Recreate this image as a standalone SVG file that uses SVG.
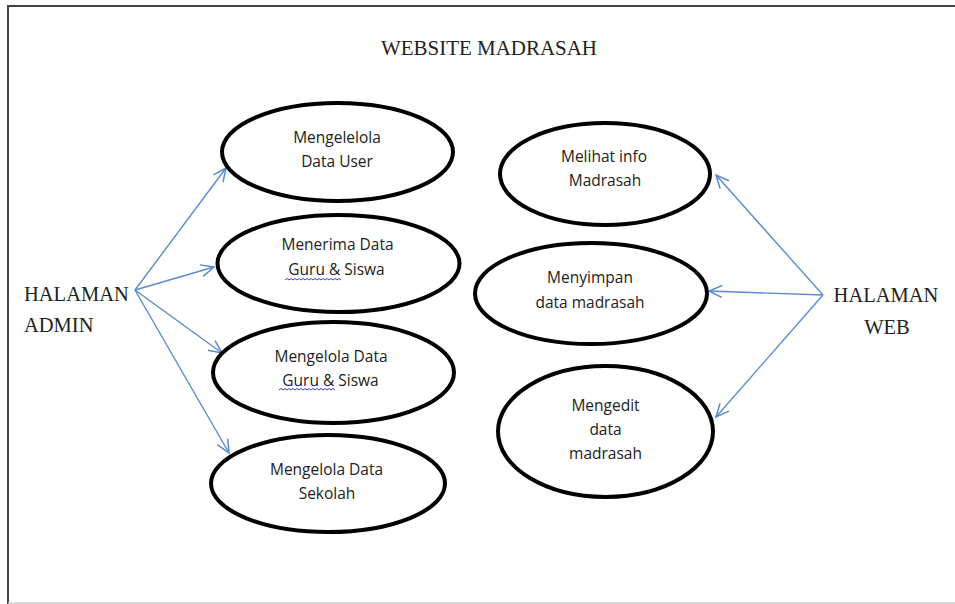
<svg xmlns="http://www.w3.org/2000/svg" width="955" height="604" viewBox="0 0 955 604">
<style>
.uc{fill:#fff;stroke:#000;stroke-width:4}
.lbl{font-family:"Open Sans","Liberation Sans",sans-serif;font-size:15.5px;fill:#222;text-anchor:middle}
.ser{font-family:"Liberation Serif","DejaVu Serif",serif;fill:#222}
.conn{stroke:#5b8bcd;stroke-width:1.4;fill:none}
.sq{stroke:#3a3af0;stroke-width:1;fill:none}
</style>
<defs>
<marker id="arr" markerUnits="userSpaceOnUse" markerWidth="16" markerHeight="16" viewBox="0 0 16 16" refX="14" refY="8" orient="auto">
<path d="M1,2 L14,8 L1,14" fill="none" stroke="#5b8bcd" stroke-width="1.5"/>
</marker>
</defs>
<rect width="955" height="604" fill="#fff"/>
<g id="frame">
<line x1="8" y1="6" x2="955" y2="6" stroke="#444" stroke-width="2"/>
<line x1="8" y1="5" x2="8" y2="604" stroke="#444" stroke-width="2"/>
<line x1="8" y1="603" x2="955" y2="603" stroke="#ccc" stroke-width="1.5"/>
</g>
<text id="title" class="ser" x="489" y="55" font-size="21" text-anchor="middle" textLength="216" lengthAdjust="spacingAndGlyphs">WEBSITE MADRASAH</text>
<g id="connectors">
<line class="conn" x1="135" y1="290" x2="226" y2="168" marker-end="url(#arr)"/>
<line class="conn" x1="135" y1="290" x2="214" y2="267" marker-end="url(#arr)"/>
<line class="conn" x1="135" y1="290" x2="222" y2="353" marker-end="url(#arr)"/>
<line class="conn" x1="135" y1="290" x2="229" y2="453" marker-end="url(#arr)"/>
<line class="conn" x1="823" y1="295" x2="716" y2="175" marker-end="url(#arr)"/>
<line class="conn" x1="823" y1="295" x2="709" y2="291" marker-end="url(#arr)"/>
<line class="conn" x1="823" y1="295" x2="716" y2="417" marker-end="url(#arr)"/>
</g>
<g id="actor-admin">
<text class="ser" x="24" y="301" font-size="20.5">HALAMAN</text>
<text class="ser" x="24" y="332" font-size="20.5">ADMIN</text>
</g>
<g id="actor-web">
<text class="ser" x="886" y="302" font-size="20.5" text-anchor="middle">HALAMAN</text>
<text class="ser" x="887" y="334" font-size="20.5" text-anchor="middle">WEB</text>
</g>
<g id="uc1">
<ellipse class="uc" cx="337.5" cy="152" rx="115.5" ry="49"/>
<text class="lbl" x="337" y="143">Mengelelola</text>
<text class="lbl" x="337" y="167">Data User</text>
</g>
<g id="uc2">
<ellipse class="uc" cx="338.5" cy="263.5" rx="121" ry="48.5"/>
<text class="lbl" x="337.5" y="250">Menerima Data</text>
<text class="lbl" x="336.5" y="275">Guru &amp; Siswa</text>
<path class="sq" d="M285,280 l2,-1.5 l2,1.5 l2,-1.5 l2,1.5 l2,-1.5 l2,1.5 l2,-1.5 l2,1.5 l2,-1.5 l2,1.5 l2,-1.5 l2,1.5 l2,-1.5 l2,1.5 l2,-1.5 l2,1.5 l2,-1.5 l2,1.5 l2,-1.5 l2,1.5 l2,-1.5 l2,1.5 l2,-1.5 l2,1.5 l2,-1.5 l2,1.5 l2,-1.5 l2,1.5"/>
</g>
<g id="uc3">
<ellipse class="uc" cx="333.5" cy="372.5" rx="120.5" ry="50.5"/>
<text class="lbl" x="331" y="362">Mengelola Data</text>
<text class="lbl" x="330.5" y="386">Guru &amp; Siswa</text>
<path class="sq" d="M279,390 l2,-1.5 l2,1.5 l2,-1.5 l2,1.5 l2,-1.5 l2,1.5 l2,-1.5 l2,1.5 l2,-1.5 l2,1.5 l2,-1.5 l2,1.5 l2,-1.5 l2,1.5 l2,-1.5 l2,1.5 l2,-1.5 l2,1.5 l2,-1.5 l2,1.5 l2,-1.5 l2,1.5 l2,-1.5 l2,1.5 l2,-1.5 l2,1.5 l2,-1.5 l2,1.5"/>
</g>
<g id="uc4">
<ellipse class="uc" cx="328" cy="483.5" rx="117" ry="48.5"/>
<text class="lbl" x="326.5" y="475">Mengelola Data</text>
<text class="lbl" x="327" y="499">Sekolah</text>
</g>
<g id="uc5">
<ellipse class="uc" cx="605" cy="174" rx="105" ry="51"/>
<text class="lbl" x="604" y="162">Melihat info</text>
<text class="lbl" x="605" y="186">Madrasah</text>
</g>
<g id="uc6">
<ellipse class="uc" cx="591" cy="293.5" rx="116" ry="50.5"/>
<text class="lbl" x="590" y="283">Menyimpan</text>
<text class="lbl" x="590" y="308">data madrasah</text>
</g>
<g id="uc7">
<ellipse class="uc" cx="605.5" cy="431.5" rx="107.5" ry="65.5"/>
<text class="lbl" x="605.5" y="411">Mengedit</text>
<text class="lbl" x="605.5" y="435">data</text>
<text class="lbl" x="605.5" y="459">madrasah</text>
</g>
</svg>
